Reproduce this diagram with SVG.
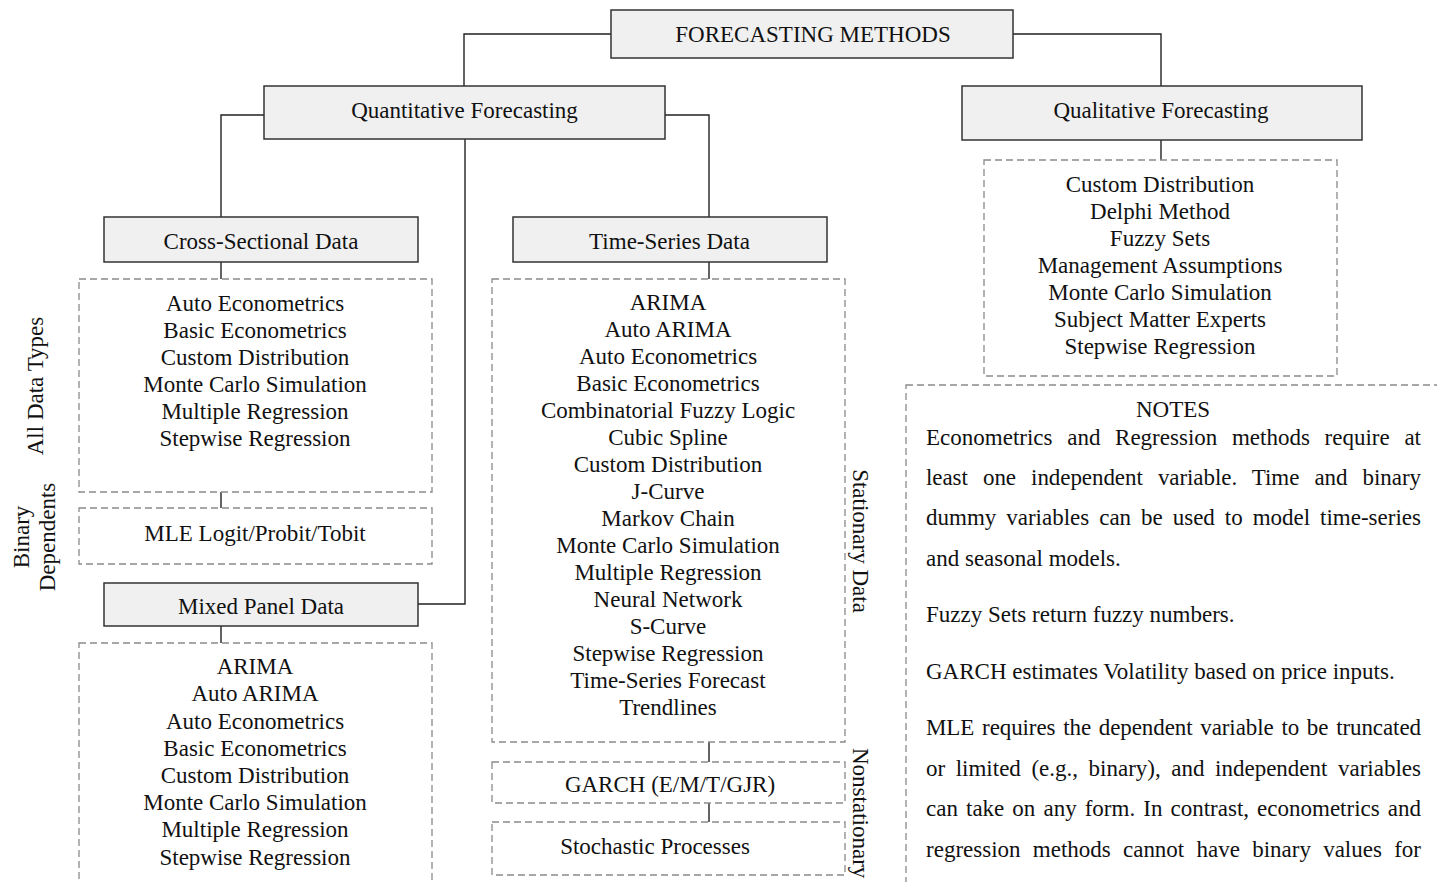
<svg xmlns="http://www.w3.org/2000/svg" width="1437" height="882" viewBox="0 0 1437 882">
  <style>
    .head { fill: #f0f0f0; stroke: #333; stroke-width: 1.5; }
    .list { fill: none; stroke: #8a8a8a; stroke-width: 1.3; stroke-dasharray: 7 4; }
    .wire { fill: none; stroke: #222; stroke-width: 1.4; }
    text { font-family: "Liberation Serif", "Times New Roman", serif; font-size: 23px; fill: #111; }
    .c { text-anchor: middle; }
  </style>
  <rect width="1437" height="882" fill="#ffffff"/>

  <!-- connectors -->
  <g id="connectors">
    <polyline class="wire" points="611,34 464,34 464,86"/>
    <polyline class="wire" points="1013,34 1161,34 1161,86"/>
    <polyline class="wire" points="264,115 221,115 221,217"/>
    <polyline class="wire" points="665,115 709,115 709,217"/>
    <polyline class="wire" points="465,139 465,604 417,604"/>
    <line class="wire" x1="1161" y1="140" x2="1161" y2="160"/>
    <line class="wire" x1="221" y1="262" x2="221" y2="279"/>
    <line class="wire" x1="221" y1="492" x2="221" y2="508"/>
    <line class="wire" x1="221" y1="626" x2="221" y2="643"/>
    <line class="wire" x1="709" y1="262" x2="709" y2="279"/>
    <line class="wire" x1="709" y1="742" x2="709" y2="762"/>
    <line class="wire" x1="709" y1="803" x2="709" y2="822"/>
  </g>

  <!-- root -->
  <g id="forecasting-methods">
    <rect class="head" x="611" y="10" width="402" height="48"/>
    <text class="c" x="813" y="42">FORECASTING METHODS</text>
  </g>

  <g id="quantitative">
    <rect class="head" x="264" y="86" width="401" height="53"/>
    <text class="c" x="464.5" y="118">Quantitative Forecasting</text>
  </g>

  <g id="qualitative">
    <rect class="head" x="962" y="86" width="400" height="54"/>
    <text class="c" x="1161" y="118">Qualitative Forecasting</text>
  </g>

  <g id="qualitative-methods">
    <rect class="list" x="984" y="160" width="353" height="216"/>
    <text class="c" x="1160" y="192">Custom Distribution</text>
    <text class="c" x="1160" y="219">Delphi Method</text>
    <text class="c" x="1160" y="246">Fuzzy Sets</text>
    <text class="c" x="1160" y="273">Management Assumptions</text>
    <text class="c" x="1160" y="300">Monte Carlo Simulation</text>
    <text class="c" x="1160" y="327">Subject Matter Experts</text>
    <text class="c" x="1160" y="354">Stepwise Regression</text>
  </g>

  <g id="cross-sectional">
    <rect class="head" x="104" y="217" width="314" height="45"/>
    <text class="c" x="261" y="249">Cross-Sectional Data</text>
  </g>

  <g id="cross-sectional-methods">
    <rect class="list" x="79" y="279" width="353" height="213"/>
    <text class="c" x="255" y="311">Auto Econometrics</text>
    <text class="c" x="255" y="338">Basic Econometrics</text>
    <text class="c" x="255" y="365">Custom Distribution</text>
    <text class="c" x="255" y="392">Monte Carlo Simulation</text>
    <text class="c" x="255" y="419">Multiple Regression</text>
    <text class="c" x="255" y="446">Stepwise Regression</text>
  </g>

  <g id="binary-methods">
    <rect class="list" x="79" y="508" width="353" height="56"/>
    <text class="c" x="255" y="541">MLE Logit/Probit/Tobit</text>
  </g>

  <g id="mixed-panel">
    <rect class="head" x="104" y="583" width="314" height="43"/>
    <text class="c" x="261" y="614">Mixed Panel Data</text>
  </g>

  <g id="mixed-panel-methods">
    <rect class="list" x="79" y="643" width="353" height="260"/>
    <text class="c" x="255" y="674">ARIMA</text>
    <text class="c" x="255" y="701">Auto ARIMA</text>
    <text class="c" x="255" y="729">Auto Econometrics</text>
    <text class="c" x="255" y="756">Basic Econometrics</text>
    <text class="c" x="255" y="783">Custom Distribution</text>
    <text class="c" x="255" y="810">Monte Carlo Simulation</text>
    <text class="c" x="255" y="837">Multiple Regression</text>
    <text class="c" x="255" y="865">Stepwise Regression</text>
  </g>

  <g id="time-series">
    <rect class="head" x="513" y="217" width="314" height="45"/>
    <text class="c" x="669.5" y="249">Time-Series Data</text>
  </g>

  <g id="time-series-methods">
    <rect class="list" x="492" y="279" width="353" height="463"/>
    <text class="c" x="668" y="310">ARIMA</text>
    <text class="c" x="668" y="337">Auto ARIMA</text>
    <text class="c" x="668" y="364">Auto Econometrics</text>
    <text class="c" x="668" y="391">Basic Econometrics</text>
    <text class="c" x="668" y="418">Combinatorial Fuzzy Logic</text>
    <text class="c" x="668" y="445">Cubic Spline</text>
    <text class="c" x="668" y="472">Custom Distribution</text>
    <text class="c" x="668" y="499">J-Curve</text>
    <text class="c" x="668" y="526">Markov Chain</text>
    <text class="c" x="668" y="553">Monte Carlo Simulation</text>
    <text class="c" x="668" y="580">Multiple Regression</text>
    <text class="c" x="668" y="607">Neural Network</text>
    <text class="c" x="668" y="634">S-Curve</text>
    <text class="c" x="668" y="661">Stepwise Regression</text>
    <text class="c" x="668" y="688">Time-Series Forecast</text>
    <text class="c" x="668" y="715">Trendlines</text>
  </g>

  <g id="garch">
    <rect class="list" x="492" y="762" width="353" height="41"/>
    <text class="c" x="670" y="792">GARCH (E/M/T/GJR)</text>
  </g>

  <g id="stochastic">
    <rect class="list" x="492" y="822" width="353" height="53"/>
    <text class="c" x="655" y="854">Stochastic Processes</text>
  </g>

  <!-- side captions -->
  <g id="side-labels">
    <text class="c" x="43" y="386" transform="rotate(-90 43 386)">All Data Types</text>
    <text class="c" x="29" y="537" transform="rotate(-90 29 537)">Binary</text>
    <text class="c" x="55" y="537" transform="rotate(-90 55 537)">Dependents</text>
    <text class="c" x="853" y="541" transform="rotate(90 853 541)">Stationary Data</text>
    <text x="853" y="748" transform="rotate(90 853 748)">Nonstationary</text>
  </g>

  <!-- notes panel -->
  <g id="notes">
    <rect class="list" x="906" y="385" width="560" height="520"/>
    <text class="c" x="1173" y="417">NOTES</text>
    <text x="926" y="445" word-spacing="8.9" textLength="495" lengthAdjust="spacing">Econometrics and Regression methods require at</text>
    <text x="926" y="485" word-spacing="9.5" textLength="495" lengthAdjust="spacing">least one independent variable. Time and binary</text>
    <text x="926" y="525" word-spacing="4.2" textLength="495" lengthAdjust="spacing">dummy variables can be used to model time-series</text>
    <text x="926" y="566">and seasonal models.</text>
    <text x="926" y="622">Fuzzy Sets return fuzzy numbers.</text>
    <text x="926" y="679">GARCH estimates Volatility based on price inputs.</text>
    <text x="926" y="735" word-spacing="2.1" textLength="495" lengthAdjust="spacing">MLE requires the dependent variable to be truncated</text>
    <text x="926" y="776" word-spacing="4.8" textLength="495" lengthAdjust="spacing">or limited (e.g., binary), and independent variables</text>
    <text x="926" y="816" word-spacing="2.3" textLength="495" lengthAdjust="spacing">can take on any form. In contrast, econometrics and</text>
    <text x="926" y="857" word-spacing="6.5" textLength="495" lengthAdjust="spacing">regression methods cannot have binary values for</text>
  </g>
</svg>
